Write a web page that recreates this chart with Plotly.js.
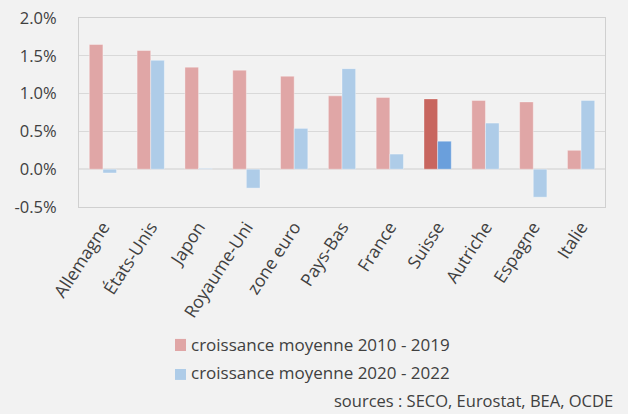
<!DOCTYPE html>
<html>
<head>
<meta charset="utf-8">
<script src="https://cdn.plot.ly/plotly-3.0.1.min.js"></script>
<style>html,body{margin:0;padding:0;background:#f2f2f2;}#chart{width:628px;height:414px;}</style>
</head>
<body>
<div id="chart"></div>
<script>
const categories = ["Allemagne","États-Unis","Japon","Royaume-Uni","zone euro","Pays-Bas","France","Suisse","Autriche","Espagne","Italie"];
const growth2010_2019 = [1.65, 1.57, 1.35, 1.31, 1.23, 0.97, 0.95, 0.93, 0.91, 0.89, 0.25];
const growth2020_2022 = [-0.05, 1.44, 0.01, -0.25, 0.54, 1.33, 0.20, 0.37, 0.61, -0.37, 0.91];
const seriesNames = ["croissance moyenne 2010 - 2019", "croissance moyenne 2020 - 2022"];
const highlight = "Suisse";
const yTickVals = [-0.5, 0, 0.5, 1.0, 1.5, 2.0];
const yTickText = ["-0.5%", "0.0%", "0.5%", "1.0%", "1.5%", "2.0%"];
const sourceText = "sources : SECO, Eurostat, BEA, OCDE";

const redLight = "#e0a6a6", redDark = "#c8665f";
const blueLight = "#aecce8", blueDark = "#6a9fdc";
const textColor = "#404040";
const fontFam = "Open Sans, sans-serif";

const trace1 = {
  type: "bar", name: seriesNames[0], x: categories, y: growth2010_2019,
  marker: {color: categories.map(c => c === highlight ? redDark : redLight),
           line: {color: "rgba(255,255,255,0.35)", width: 1}},
  hoverinfo: "skip"
};
const trace2 = {
  type: "bar", name: seriesNames[1], x: categories, y: growth2020_2022,
  marker: {color: categories.map(c => c === highlight ? blueDark : blueLight),
           line: {color: "rgba(255,255,255,0.35)", width: 1}},
  hoverinfo: "skip"
};

// legend drawn manually (swatch + text), positioned in paper coordinates
const legendSwatches = [
  {color: redLight, y0: -0.762, y1: -0.698, ty: -0.725},
  {color: blueLight, y0: -0.915, y1: -0.857, ty: -0.878}
];
const shapes = legendSwatches.map(s => ({
  type: "rect", xref: "paper", yref: "paper", x0: 0.1825, x1: 0.2034, y0: s.y0, y1: s.y1,
  fillcolor: s.color, line: {width: 0}
}));
const annotations = legendSwatches.map((s, i) => ({
  text: seriesNames[i], xref: "paper", yref: "paper", x: 0.209, y: s.ty,
  xanchor: "left", yanchor: "middle", showarrow: false,
  font: {size: 17, color: textColor, family: fontFam}
}));
annotations.push({
  text: sourceText, xref: "paper", yref: "paper",
  x: 1.017, y: -1.024, xanchor: "right", yanchor: "middle", showarrow: false,
  borderpad: 0,
  font: {size: 16.5, color: textColor, family: fontFam}
});

const layout = {
  width: 628, height: 414,
  paper_bgcolor: "#f2f2f2", plot_bgcolor: "#f2f2f2",
  margin: {l: 79, r: 23, t: 18, b: 207},
  font: {family: fontFam, color: textColor},
  barmode: "group", bargap: 0.43, bargroupgap: 0,
  showlegend: false,
  xaxis: {type: "category", tickangle: -57, tickfont: {size: 17.5, color: textColor},
          showline: true, linecolor: "#d0d0d0", linewidth: 1, mirror: true,
          showgrid: false, ticks: "", ticklabelstandoff: 2, fixedrange: true},
  yaxis: {range: [-0.5, 2.0], tickvals: yTickVals, ticktext: yTickText,
          tickfont: {size: 16.5, color: textColor},
          showgrid: true, gridcolor: "#d9d9d9", gridwidth: 1,
          zeroline: true, zerolinecolor: "#e0e0e0", zerolinewidth: 2,
          showline: true, linecolor: "#d0d0d0", linewidth: 1, mirror: true,
          ticks: "", ticklabelstandoff: 18, fixedrange: true},
  shapes: shapes,
  annotations: annotations
};

Plotly.newPlot("chart", [trace1, trace2], layout, {displayModeBar: false, staticPlot: true});
</script>
</body>
</html>
